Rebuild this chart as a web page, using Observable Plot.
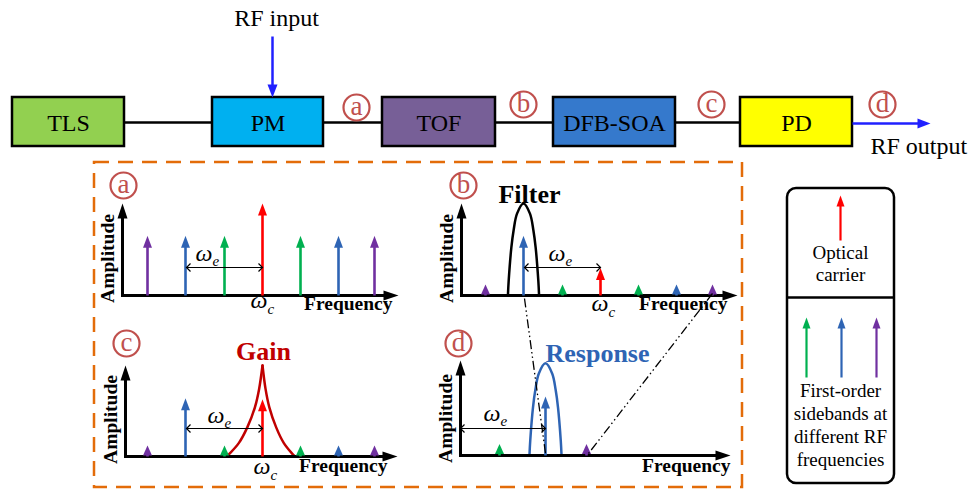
<!DOCTYPE html>
<html><head><meta charset="utf-8">
<script src="https://cdn.jsdelivr.net/npm/d3@7"></script>
<script src="https://cdn.jsdelivr.net/npm/@observablehq/plot@0.6"></script>
<style>body{margin:0;background:#fff}#chart svg{display:block}#chart svg text{font-family:"Liberation Serif","Times New Roman","DejaVu Serif",serif}</style>
</head><body><div id="chart"></div>
<script>
// ================= DATA =================
const blocks = ["TLS", "PM", "TOF", "DFB-SOA", "PD"];
const nodeLabels = ["a", "b", "c", "d"];
const ioLabels = ["RF input", "RF output"];
// optical spectrum: sideband order (carrier = 0) and relative amplitude
const sidebandOrder = [-3, -2, -1, 0, 1, 2, 3];
const ampA = [0.65, 0.65, 0.65, 1.00, 0.65, 0.65, 0.65];
const ampB = [0.12, 0.65, 0.12, 0.30, 0.12, 0.12, 0.12];
const ampC = [0.12, 0.64, 0.12, 0.63, 0.12, 0.12, 0.12];
// RF spectrum after detection
const rfOrder = [1, 2, 3];
const ampD = [0.12, 0.62, 0.12];
// filter / response shape (offset in sideband spacings, relative amplitude)
const passOffset = [-0.41, -0.39, -0.32, -0.26, -0.17, 0, 0.17, 0.26, 0.32, 0.39, 0.41];
const passAmp    = [0, 0.16, 0.52, 0.71, 0.89, 1, 0.89, 0.71, 0.52, 0.16, 0];
// gain shape, one branch (offset in sideband spacings, relative amplitude)
const gainOffset = [-0.95, -0.86, -0.62, -0.40, -0.20, -0.09, 0];
const gainAmp    = [0, 0.035, 0.15, 0.32, 0.54, 0.74, 1.0];
const panelTitles = ["Filter", "Gain", "Response"];
const axisLabels = ["Amplitude", "Frequency"];
const legendCarrier = ["Optical", "carrier"];
const legendSidebands = ["First-order", "sidebands at", "different RF", "frequencies"];

// ================= STYLE =================
const blockFill = ["#92d050", "#00b0f0", "#775f97", "#3579cc", "#ffff00"];
const colorByOrder = {0: "#ff0000", 1: "#00b050", 2: "#2e64b4", 3: "#7030a0"};
const NODE = "#c0504d", ORANGE = "#e36c09", RFBLUE = "#2020ff";
const SERIF = "Liberation Serif, Times New Roman, DejaVu Serif, serif";

// ================= LAYOUT =================
const blockX1 = [12, 212, 382, 553, 740], blockX2 = [124, 323, 495, 675, 852];
const blockY1 = 97, blockY2 = 146, chainY = 122;
const nodePos = [[356, 107], [523, 104], [711, 104], [882, 104]];
const orderPx = {"-3": -115, "-2": -77, "-1": -38, "0": 0, "1": 38, "2": 76, "3": 112};
const rfPx = {"1": 39, "2": 85, "3": 126};
const SP = 38; // px per sideband spacing
const panels = [
  {id: "a", x0: 122, y0: 295, top: 203, xEnd: 398, carrier: 262, unit: 92, circ: [123, 185],
   amps: ampA, freqEnd: 392, freqBase: 309, omegaE: [195, 260], omegaC: [250, 307], we: [186, 262, 267]},
  {id: "b", x0: 461, y0: 295, top: 203, xEnd: 737, carrier: 600, unit: 92, circ: [463, 185],
   amps: ampB, freqEnd: 727, freqBase: 309, omegaE: [548, 260], omegaC: [591, 310], we: [524, 600, 267]},
  {id: "c", x0: 125, y0: 456, top: 365, xEnd: 397, carrier: 262, unit: 91, circ: [126, 343],
   amps: ampC, freqEnd: 387, freqBase: 471, omegaE: [207, 422], omegaC: [253, 473], we: [186, 262, 428]},
  {id: "d", x0: 460, y0: 455, top: 360, xEnd: 730, carrier: null, unit: 95, circ: [458, 343],
   amps: ampD, freqEnd: 730, freqBase: 471, omegaE: [483, 420], omegaC: null, we: [460, 545, 428]}
];

// ================= HELPERS =================
const head = (L, W) => ({draw(ctx) { ctx.moveTo(0, 0); ctx.lineTo(W / 2, L); ctx.lineTo(-W / 2, L); ctx.closePath(); }});
const chevron = (L, W) => ({draw(ctx) { ctx.moveTo(-W / 2, L); ctx.lineTo(0, 0); ctx.lineTo(W / 2, L); }});

const shafts = [], bigHeads = [], smallHeads = [];
for (const p of panels) {
  const orders = p.id === "d" ? rfOrder : sidebandOrder;
  orders.forEach((o, i) => {
    const x = p.id === "d" ? p.x0 + rfPx[o] : p.carrier + orderPx[o];
    const h = p.amps[i] * p.unit, tip = p.y0 - h, big = h > 20;
    const color = colorByOrder[Math.abs(o)];
    shafts.push({x, y1: p.y0, y2: tip + (big ? 10 : 8), color});
    (big ? bigHeads : smallHeads).push({x, y: tip, color});
  });
}
// legend arrows
const legendShafts = [], legendHeads = [];
legendShafts.push({x: 840, y1: 240, y2: 204, color: colorByOrder[0]});
legendHeads.push({x: 840, y: 195, color: colorByOrder[0]});
[1, 2, 3].forEach((o, i) => {
  const x = 806 + 35 * i;
  legendShafts.push({x, y1: 377, y2: 326, color: colorByOrder[o]});
  legendHeads.push({x, y: 317, color: colorByOrder[o]});
});

// curves
const curves = [];
const pb = panels[1], pc = panels[2], pd = panels[3];
passOffset.forEach((o, i) => curves.push({g: "filter", x: pb.carrier + orderPx[-2] + o * SP, y: pb.y0 - passAmp[i] * pb.unit, c: "#000"}));
passOffset.forEach((o, i) => curves.push({g: "resp", x: pd.x0 + rfPx[2] + o * SP * 1.03, y: pd.y0 - passAmp[i] * pd.unit * 0.97, c: colorByOrder[2]}));
gainOffset.forEach((o, i) => curves.push({g: "gainL", x: pc.carrier + o * SP, y: pc.y0 - gainAmp[i] * pc.unit, c: "#c00000"}));
gainOffset.forEach((o, i) => curves.push({g: "gainR", x: pc.carrier - o * SP * 0.9, y: pc.y0 - gainAmp[i] * pc.unit, c: "#c00000"}));

// axes
const axisLinks = [], upHeads = [], rightHeads = [];
for (const p of panels) {
  axisLinks.push({x1: p.x0, y1: p.y0 + 1.5, x2: p.x0, y2: p.top + 12});
  axisLinks.push({x1: p.x0 - 1.5, y1: p.y0, x2: p.xEnd - 12, y2: p.y0});
  upHeads.push({x: p.x0, y: p.top});
  rightHeads.push({x: p.xEnd, y: p.y0});
}

// texts
const omegas = [], subs = [];
for (const p of panels) {
  omegas.push({x: p.omegaE[0], y: p.omegaE[1], t: "ω"});
  subs.push({x: p.omegaE[0] + 17, y: p.omegaE[1] + 5, t: "e"});
  if (p.omegaC) {
    omegas.push({x: p.omegaC[0], y: p.omegaC[1], t: "ω"});
    subs.push({x: p.omegaC[0] + 17, y: p.omegaC[1] + 6, t: "c"});
  }
}
const weLinks = panels.map(p => ({x1: p.we[0], x2: p.we[1], y: p.we[2]}));
const chevL = weLinks.map(d => ({x: d.x1, y: d.y})), chevR = weLinks.map(d => ({x: d.x2, y: d.y}));

const blockData = blocks.map((b, i) => ({b, x1: blockX1[i], x2: blockX2[i], fill: blockFill[i]}));
const chainLinks = blocks.slice(1).map((b, i) => ({x1: blockX2[i], x2: blockX1[i + 1]}));
const circles = [
  ...nodeLabels.map((t, i) => ({x: nodePos[i][0], y: nodePos[i][1], t})),
  ...panels.map(p => ({x: p.circ[0], y: p.circ[1], t: p.id}))
];

const ampTexts = panels.map(p => ({x: p.x0 - 15, y: p.y0 - 37, t: axisLabels[0]}));
const freqTexts = panels.map(p => ({x: p.freqEnd, y: p.freqBase, t: axisLabels[1]}));
const titleTexts = [
  {x: 529, y: 202, t: panelTitles[0], c: "#000"},
  {x: 263, y: 359, t: panelTitles[1], c: "#c00000"},
  {x: 597, y: 361, t: panelTitles[2], c: colorByOrder[2]}
];
const legendTexts = [
  ...legendCarrier.map((t, i) => ({x: 840, y: 258 + 22 * i, t})),
  ...legendSidebands.map((t, i) => ({x: 840, y: 396 + 23 * i, t}))
];

const chart = Plot.plot({
  width: 974, height: 490, margin: 0,
  x: {domain: [0, 974], range: [0, 974], axis: null},
  y: {domain: [0, 490], range: [0, 490], axis: null},
  color: {type: "identity"},
  style: {background: "#fff", fontFamily: SERIF},
  marks: [
    // dashed frame
    Plot.rect([0], {x1: 94, x2: 742, y1: 162, y2: 487, fill: "none", stroke: ORANGE, strokeWidth: 2.5, strokeDasharray: "15,9"}),
    // chain
    Plot.link(chainLinks, {x1: "x1", x2: "x2", y1: chainY, y2: chainY, stroke: "#000", strokeWidth: 2.5}),
    Plot.rect(blockData, {x1: "x1", x2: "x2", y1: blockY1, y2: blockY2, fill: "fill", stroke: "#000", strokeWidth: 2.5}),
    Plot.text(blockData, {x: d => (d.x1 + d.x2) / 2, y: 130, text: "b", fontFamily: SERIF, fontSize: 24, lineAnchor: "bottom", fill: "#000"}),
    // RF input / output
    Plot.link([0], {x1: 272, x2: 272, y1: 36, y2: 86, stroke: RFBLUE, strokeWidth: 2.5}),
    Plot.dot([0], {x: 272, y: 97, symbol: head(13, 10), rotate: 180, fill: RFBLUE, stroke: "none"}),
    Plot.link([0], {x1: 852, x2: 918, y1: 123, y2: 123, stroke: RFBLUE, strokeWidth: 2.5}),
    Plot.dot([0], {x: 930, y: 123, symbol: head(13, 10), rotate: 90, fill: RFBLUE, stroke: "none"}),
    Plot.text([ioLabels[0]], {x: 276, y: 25, text: d => d, fontFamily: SERIF, fontSize: 24, lineAnchor: "bottom", fill: "#000"}),
    Plot.text([ioLabels[1]], {x: 870, y: 153, text: d => d, fontFamily: SERIF, fontSize: 24, lineAnchor: "bottom", textAnchor: "start", fill: "#000"}),
    // circled labels
    Plot.dot(circles, {x: "x", y: "y", r: 13, stroke: NODE, strokeWidth: 2.2, fill: "none"}),
    Plot.text(circles, {x: "x", y: d => d.y + 7.5, text: "t", fontFamily: SERIF, fontSize: 27, lineAnchor: "bottom", fill: NODE}),
    // curves
    Plot.line(curves, {x: "x", y: "y", z: "g", stroke: "c", strokeWidth: 2.5, curve: "catmull-rom"}),
    // axes
    Plot.link(axisLinks, {x1: "x1", x2: "x2", y1: "y1", y2: "y2", stroke: "#000", strokeWidth: 3}),
    Plot.dot(upHeads, {x: "x", y: "y", symbol: head(15, 10), fill: "#000", stroke: "none"}),
    Plot.dot(rightHeads, {x: "x", y: "y", symbol: head(15, 10), rotate: 90, fill: "#000", stroke: "none"}),
    // spectral lines
    Plot.link(shafts, {x1: "x", x2: "x", y1: "y1", y2: "y2", stroke: "color", strokeWidth: 2.6}),
    Plot.dot(bigHeads, {x: "x", y: "y", symbol: head(12, 9), fill: "color", stroke: "none"}),
    Plot.dot(smallHeads, {x: "x", y: "y", symbol: head(10, 9), fill: "color", stroke: "none"}),
    // omega_e spacing arrows
    Plot.link(weLinks, {x1: "x1", x2: "x2", y1: "y", y2: "y", stroke: "#000", strokeWidth: 1.2}),
    Plot.dot(chevL, {x: "x", y: "y", symbol: chevron(4, 8), rotate: -90, fill: "none", stroke: "#000", strokeWidth: 1.2}),
    Plot.dot(chevR, {x: "x", y: "y", symbol: chevron(4, 8), rotate: 90, fill: "none", stroke: "#000", strokeWidth: 1.2}),
    Plot.text(omegas, {x: "x", y: "y", text: "t", fontFamily: SERIF, fontStyle: "italic", fontSize: 24, textAnchor: "start", lineAnchor: "bottom", fill: "#000"}),
    Plot.text(subs, {x: "x", y: "y", text: "t", fontFamily: SERIF, fontStyle: "italic", fontSize: 15, textAnchor: "start", lineAnchor: "bottom", fill: "#000"}),
    // axis labels
    Plot.text(ampTexts, {x: "x", y: "y", text: "t", rotate: -90, fontFamily: SERIF, fontWeight: "bold", fontSize: 19.5, lineAnchor: "middle", fill: "#000"}),
    Plot.text(freqTexts, {x: "x", y: "y", text: "t", fontFamily: SERIF, fontWeight: "bold", fontSize: 19.5, textAnchor: "end", lineAnchor: "bottom", fill: "#000"}),
    Plot.text(titleTexts, {x: "x", y: "y", text: "t", fill: "c", fontFamily: SERIF, fontWeight: "bold", fontSize: 26, lineAnchor: "bottom"}),
    // mapping lines b -> d
    Plot.link([{x1: 524, y1: 298, x2: 545, y2: 453}, {x1: 712, y1: 293, x2: 588, y2: 453}],
      {x1: "x1", y1: "y1", x2: "x2", y2: "y2", stroke: "#000", strokeWidth: 1.3, strokeDasharray: "9,3,1.5,3,1.5,3"}),
    // legend
    Plot.rect([0], {x1: 787, x2: 894, y1: 188, y2: 483, rx: 9, fill: "none", stroke: "#000", strokeWidth: 2.5}),
    Plot.link([0], {x1: 787, x2: 894, y1: 297, y2: 297, stroke: "#000", strokeWidth: 2.5}),
    Plot.link(legendShafts, {x1: "x", x2: "x", y1: "y1", y2: "y2", stroke: "color", strokeWidth: 2.2}),
    Plot.dot(legendHeads, {x: "x", y: "y", symbol: head(11, 8), fill: "color", stroke: "none"}),
    Plot.text(legendTexts, {x: "x", y: "y", text: "t", fontFamily: SERIF, fontSize: 19, lineAnchor: "bottom", fill: "#000"})
  ]
});
document.getElementById("chart").appendChild(chart);
</script>
</body></html>
